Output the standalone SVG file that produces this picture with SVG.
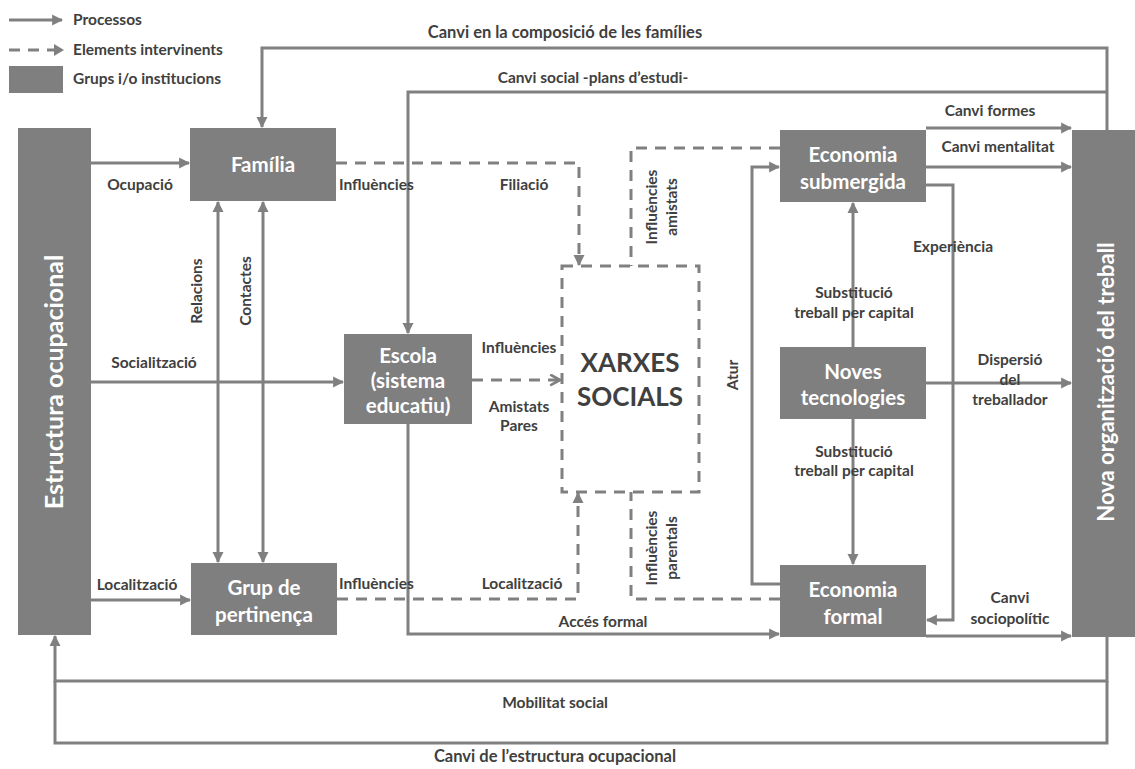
<svg xmlns="http://www.w3.org/2000/svg" width="1135" height="769" viewBox="0 0 1135 769">
  <defs>
    <marker id="arr" viewBox="0 0 10 10" refX="9" refY="5" markerWidth="11" markerHeight="12" markerUnits="userSpaceOnUse" orient="auto-start-reverse">
      <path d="M0,0 L10,5 L0,10 z" fill="#808080"/>
    </marker>
    <marker id="open" viewBox="0 0 12 12" refX="10" refY="6" markerWidth="13" markerHeight="13" markerUnits="userSpaceOnUse" orient="auto">
      <path d="M1,1 L10,6 L1,11" fill="none" stroke="#808080" stroke-width="2.5"/>
    </marker>
    <style>
      .box { fill: #7f7f7f; }
      .ln { fill: none; stroke: #808080; stroke-width: 3; }
      .dash { fill: none; stroke: #808080; stroke-width: 3; stroke-dasharray: 11 8; }
      .lbl { font-family: Lato, "Liberation Sans", sans-serif; font-weight: bold; font-size: 15.5px; fill: #404040; }
      .c { text-anchor: middle; }
      .node { font-family: Lato, "Liberation Sans", sans-serif; font-weight: bold; font-size: 20.5px; fill: #ffffff; text-anchor: middle; }
      .big { font-family: Lato, "Liberation Sans", sans-serif; font-weight: bold; font-size: 26px; fill: #404040; text-anchor: middle; }
    </style>
  </defs>

  <!-- legend -->
  <g id="legend">
    <line class="ln" x1="9" y1="20" x2="62" y2="20" marker-end="url(#arr)"/>
    <line class="dash" x1="9" y1="50" x2="54" y2="50"/>
    <path d="M54,44 L64,50 L54,56 z" fill="#808080"/>
    <rect class="box" x="9" y="66" width="54" height="27"/>
    <text class="lbl" x="73" y="25">Processos</text>
    <text class="lbl" x="73" y="55">Elements intervinents</text>
    <text class="lbl" x="73" y="84">Grups i/o institucions</text>
  </g>

  <!-- connectors -->
  <g id="connectors">
    <!-- solid processes -->
    <path class="ln" d="M1107,130 V48 H262 V127" marker-end="url(#arr)"/>
    <path class="ln" d="M1107,92 H408 V333" marker-end="url(#arr)"/>
    <path class="ln" d="M91,163 H189" marker-end="url(#arr)"/>
    <path class="ln" d="M218,202 V562" marker-start="url(#arr)" marker-end="url(#arr)"/>
    <path class="ln" d="M263,202 V562" marker-start="url(#arr)" marker-end="url(#arr)"/>
    <path class="ln" d="M91,382 H343" marker-end="url(#arr)"/>
    <path class="ln" d="M91,600 H190" marker-end="url(#arr)"/>
    <path class="ln" d="M408,424 V634 H779" marker-end="url(#arr)"/>
    <path class="ln" d="M780,584 H752 V167 H779" marker-end="url(#arr)"/>
    <path class="ln" d="M926,128 H1071" marker-end="url(#arr)"/>
    <path class="ln" d="M926,167 H1071" marker-end="url(#arr)"/>
    <path class="ln" d="M926,185 H953 V620 H927" marker-end="url(#arr)"/>
    <path class="ln" d="M853,347 V203" marker-end="url(#arr)"/>
    <path class="ln" d="M853,419 V564" marker-end="url(#arr)"/>
    <path class="ln" d="M926,383 H1071" marker-end="url(#arr)"/>
    <path class="ln" d="M926,636 H1071" marker-end="url(#arr)"/>
    <path class="ln" d="M1107,637 V681 H55 V636" marker-end="url(#arr)"/>
    <path class="ln" d="M1107,681 V743 H55 V681"/>
    <!-- dashed intervening elements -->
    <path class="dash" d="M336,163 H579 V265" marker-end="url(#arr)"/>
    <path class="dash" d="M780,148 H631 V266"/>
    <path class="dash" d="M472,380 H560" marker-end="url(#open)"/>
    <path class="dash" d="M337,599 H578 V493" marker-end="url(#arr)"/>
    <path class="dash" d="M780,599 H631 V492"/>
  </g>

  <!-- nodes -->
  <g id="estructura">
    <rect class="box" x="18" y="128" width="73" height="507"/>
    <text class="node" transform="translate(63,382) rotate(-90)" style="font-size:25px">Estructura ocupacional</text>
  </g>
  <g id="familia">
    <rect class="box" x="190" y="128" width="146" height="73"/>
    <text class="node" x="263" y="172">Família</text>
  </g>
  <g id="grup">
    <rect class="box" x="191" y="563" width="146" height="72"/>
    <text class="node" x="264" y="595">Grup de</text>
    <text class="node" x="264" y="622">pertinença</text>
  </g>
  <g id="escola">
    <rect class="box" x="344" y="334" width="128" height="90"/>
    <text class="node" x="408" y="363">Escola</text>
    <text class="node" x="408" y="388">(sistema</text>
    <text class="node" x="408" y="413">educatiu)</text>
  </g>
  <g id="xarxes">
    <rect class="dash" x="562" y="266" width="137" height="226"/>
    <text class="big" x="630" y="372">XARXES</text>
    <text class="big" x="630" y="406">SOCIALS</text>
  </g>
  <g id="economia-submergida">
    <rect class="box" x="780" y="130" width="146" height="72"/>
    <text class="node" x="853" y="162">Economia</text>
    <text class="node" x="853" y="189">submergida</text>
  </g>
  <g id="noves-tecnologies">
    <rect class="box" x="780" y="347" width="146" height="72"/>
    <text class="node" x="853" y="379">Noves</text>
    <text class="node" x="853" y="405">tecnologies</text>
  </g>
  <g id="economia-formal">
    <rect class="box" x="780" y="565" width="146" height="72"/>
    <text class="node" x="853" y="597">Economia</text>
    <text class="node" x="853" y="624">formal</text>
  </g>
  <g id="nova-organitzacio">
    <rect class="box" x="1072" y="130" width="68" height="507"/>
    <text class="node" transform="translate(1114,382) rotate(-90)" style="font-size:22px">Nova organització del treball</text>
  </g>

  <!-- connector labels -->
  <g id="labels">
    <text class="lbl c" x="565" y="38" style="font-size:16.5px">Canvi en la composició de les famílies</text>
    <text class="lbl c" x="593" y="83">Canvi social -plans d’estudi-</text>
    <text class="lbl c" x="990" y="116">Canvi formes</text>
    <text class="lbl c" x="998" y="152">Canvi mentalitat</text>
    <text class="lbl c" x="140" y="190">Ocupació</text>
    <text class="lbl" x="339" y="190">Influències</text>
    <text class="lbl c" x="524" y="190">Filiació</text>
    <text class="lbl c" transform="translate(202,291) rotate(-90)">Relacions</text>
    <text class="lbl c" transform="translate(251,291) rotate(-90)">Contactes</text>
    <text class="lbl c" transform="translate(657,207) rotate(-90)">Influències</text>
    <text class="lbl c" transform="translate(677,207) rotate(-90)">amistats</text>
    <text class="lbl c" x="953" y="252">Experiència</text>
    <text class="lbl c" x="854" y="298">Substitució</text>
    <text class="lbl c" x="854" y="318">treball per capital</text>
    <text class="lbl c" x="154" y="368">Socialització</text>
    <text class="lbl c" x="519" y="353">Influències</text>
    <text class="lbl c" x="519" y="412">Amistats</text>
    <text class="lbl c" x="519" y="431">Pares</text>
    <text class="lbl c" transform="translate(738,375) rotate(-90)">Atur</text>
    <text class="lbl c" x="1010" y="365">Dispersió</text>
    <text class="lbl c" x="1010" y="385">del</text>
    <text class="lbl c" x="1010" y="405">treballador</text>
    <text class="lbl c" x="854" y="457">Substitució</text>
    <text class="lbl c" x="854" y="476">treball per capital</text>
    <text class="lbl c" transform="translate(657,548) rotate(-90)">Influències</text>
    <text class="lbl c" transform="translate(677,548) rotate(-90)">parentals</text>
    <text class="lbl c" x="137" y="590">Localització</text>
    <text class="lbl" x="339" y="589">Influències</text>
    <text class="lbl c" x="522" y="589">Localització</text>
    <text class="lbl c" x="1010" y="603">Canvi</text>
    <text class="lbl c" x="1010" y="624">sociopolític</text>
    <text class="lbl c" x="603" y="627">Accés formal</text>
    <text class="lbl c" x="555" y="708">Mobilitat social</text>
    <text class="lbl c" x="555" y="762" style="font-size:16.5px">Canvi de l’estructura ocupacional</text>
  </g>
</svg>
